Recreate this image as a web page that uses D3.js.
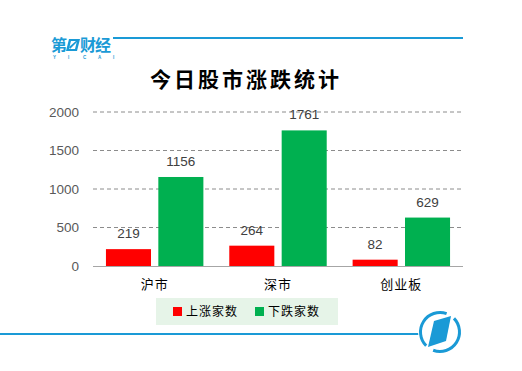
<!DOCTYPE html>
<html>
<head>
<meta charset="utf-8">
<script src="https://d3js.org/d3.v7.min.js"></script>
<style>
  body { margin: 0; background: #fff; }
  svg { display: block; }
</style>
</head>
<body>
<script>
// chart data
const title = "今日股市涨跌统计"
const markets = ["沪市", "深市", "创业板"]
const seriesNames = ["上涨家数", "下跌家数"]
const upCounts = [219, 264, 82]
const downCounts = [1156, 1761, 629]
const yTicks = [0, 500, 1000, 1500, 2000]
const colors = ["#ff0000", "#00b050"]

const w = 522, h = 371
const blue = "#1a9ad6"
const margin = {left: 93, right: 59, top: 112, bottom: 105}

const svg = d3.select("body").append("svg").attr("width", w).attr("height", h)

// header: logo + line
svg.append("line").attr("x1", 113).attr("x2", 463).attr("y1", 38).attr("y2", 38)
  .attr("stroke", blue).attr("stroke-width", 2)
const logo = svg.append("g").attr("fill", blue)
  .style("font-family", "'Noto Sans CJK SC', sans-serif").style("font-weight", "bold")
logo.append("text").attr("x", 51).attr("y", 51).attr("font-size", 16).text("第")
logo.append("path").attr("d", "M69,39 L80,39 L77,51 L66,51 Z")
logo.append("path").attr("d", "M71,41 L77,41 L75,49 L69,49 Z").attr("fill", "#fff")
logo.append("path").attr("d", "M69,47 L77,40 L78,41 L70,49 Z")
logo.append("text").attr("x", 80).attr("y", 51).attr("font-size", 16).attr("letter-spacing", -1).text("财经")
logo.append("g").selectAll("text").data("YICAI".split("")).join("text")
  .attr("x", (d, i) => 53 + i * 15).attr("y", 59).attr("font-size", 4.5)
  .style("font-family", "'Liberation Sans', sans-serif").text(d => d)

svg.append("text").attr("x", 246).attr("y", 87).attr("text-anchor", "middle")
  .style("font-family", "'Noto Sans CJK SC', serif").attr("font-size", 21).attr("font-weight", "bold")
  .attr("letter-spacing", 3).attr("fill", "#000").text(title)

// scales
const x0 = d3.scaleBand().domain(markets).range([margin.left, w - margin.right]).paddingInner(0.21).paddingOuter(0.105)
const x1 = d3.scaleBand().domain(seriesNames).range([0, x0.bandwidth()]).paddingInner(0.14)
const y = d3.scaleLinear().domain([0, 2000]).range([h - margin.bottom, margin.top])

// grid
svg.append("g").selectAll("line").data(yTicks.filter(d => d > 0)).join("line")
  .attr("x1", margin.left).attr("x2", w - margin.right)
  .attr("y1", d => y(d)).attr("y2", d => y(d))
  .attr("stroke", "#8c8c8c").attr("stroke-dasharray", "4,3").attr("stroke-width", 1)

const yAxis = svg.append("g").attr("transform", "translate(" + margin.left + ",0)")
  .call(d3.axisLeft(y).tickValues(yTicks).tickFormat(d3.format("d")).tickSize(0).tickPadding(14))
yAxis.select(".domain").remove()
yAxis.selectAll("text").style("font-family", "'Liberation Sans', sans-serif")
  .attr("font-size", 13.5).attr("fill", "#595959")

// bars
const data = markets.map((m, i) => ({m, vals: [upCounts[i], downCounts[i]]}))
const groups = svg.append("g").selectAll("g").data(data).join("g")
  .attr("transform", d => "translate(" + x0(d.m) + ",0)")
groups.selectAll("rect").data(d => d.vals.map((v, j) => ({v, s: seriesNames[j], j}))).join("rect")
  .attr("x", d => x1(d.s)).attr("width", x1.bandwidth())
  .attr("y", d => y(d.v)).attr("height", d => y(0) - y(d.v))
  .attr("fill", d => colors[d.j])
groups.selectAll("text").data(d => d.vals.map((v, j) => ({v, s: seriesNames[j]}))).join("text")
  .attr("x", d => x1(d.s) + x1.bandwidth() / 2).attr("y", d => y(d.v) - 11)
  .attr("text-anchor", "middle").style("font-family", "'Liberation Sans', sans-serif")
  .attr("font-size", 13.5).attr("fill", "#404040").text(d => d.v)

// x axis
const xAxis = svg.append("g").attr("transform", "translate(0," + y(0) + ")")
  .call(d3.axisBottom(x0).tickSize(0).tickPadding(14))
xAxis.select(".domain").attr("stroke", "#a6a6a6").attr("d", "M" + margin.left + ",0.5H" + (w - margin.right))
xAxis.selectAll("text").style("font-family", "'Noto Sans CJK SC', serif")
  .attr("font-size", 13).attr("letter-spacing", 1).attr("fill", "#000")

// legend
const legend = svg.append("g")
legend.append("rect").attr("x", 156).attr("y", 298).attr("width", 182).attr("height", 27).attr("fill", "#e6f4e8")
seriesNames.forEach((s, i) => {
  const lx = 173 + i * 82
  legend.append("rect").attr("x", lx).attr("y", 307).attr("width", 9).attr("height", 9).attr("fill", colors[i])
  legend.append("text").attr("x", lx + 13).attr("y", 316).style("font-family", "'Noto Sans CJK SC', serif")
    .attr("font-size", 12).attr("letter-spacing", 1).attr("fill", "#000").text(s)
})

// footer line + badge
svg.append("line").attr("x1", 0).attr("x2", 420).attr("y1", 334).attr("y2", 334)
  .attr("stroke", blue).attr("stroke-width", 2)
const badge = svg.append("g").attr("transform", "translate(440,332)")
badge.append("circle").attr("r", 22).attr("fill", "#fff")
const arc = d3.arc().innerRadius(18).outerRadius(21)
badge.append("path").attr("d", arc({startAngle: 0.8, endAngle: 3.5})).attr("fill", blue)
badge.append("path").attr("d", arc({startAngle: 3.93, endAngle: 6.63})).attr("fill", blue)
badge.append("path").attr("d", "M-6,-11 L11,-16 L6,9 L-12,15 Z").attr("fill", blue)
</script>
</body>
</html>
